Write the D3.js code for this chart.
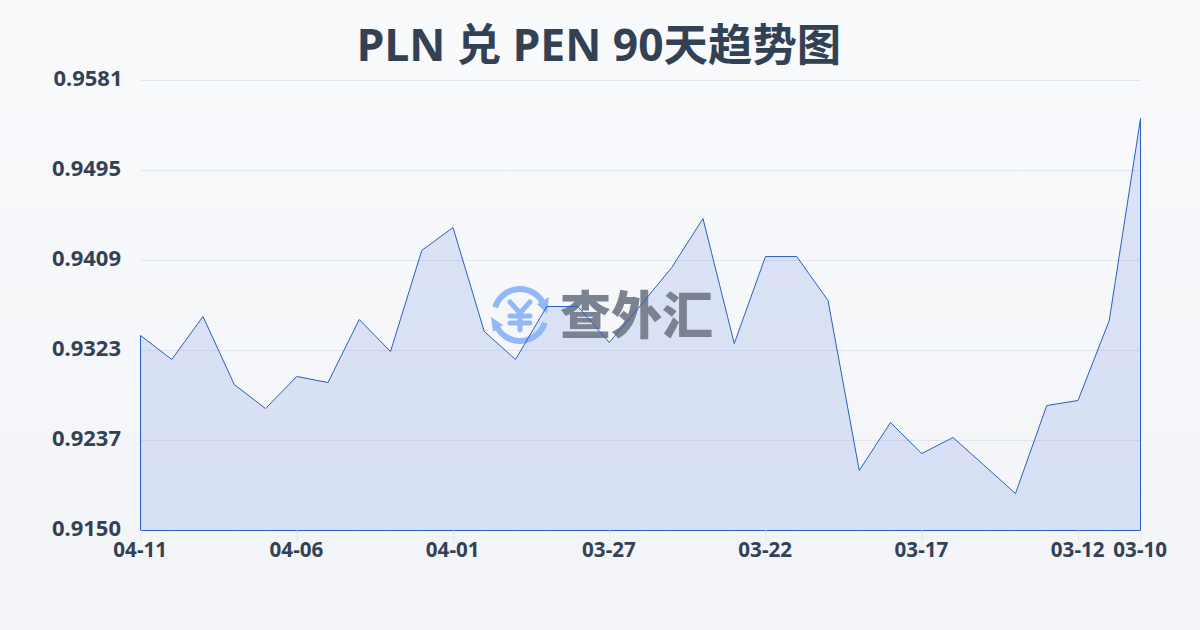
<!DOCTYPE html>
<html>
<head>
<meta charset="utf-8">
<script src="https://cdnjs.cloudflare.com/ajax/libs/d3/7.8.5/d3.min.js"></script>
<style>
  html, body { margin: 0; padding: 0; }
  body { width: 1200px; height: 630px; overflow: hidden; font-family: "Noto Sans", "Noto Sans CJK SC", sans-serif; }
</style>
</head>
<body>
<div id="chart"></div>
<script>
const dates = ["04-11","04-10","04-09","04-08","04-07","04-06","04-05","04-04","04-03","04-02","04-01",
    "03-31","03-30","03-29","03-28","03-27","03-26","03-25","03-24","03-23","03-22",
    "03-21","03-20","03-19","03-18","03-17","03-16","03-15","03-14","03-13","03-12","03-11","03-10"];
const rates = [0.93368,0.93138,0.93550,0.92898,0.92668,0.92975,0.92917,0.93521,0.93214,0.94182,0.94402,
    0.93406,0.93138,0.93645,0.93645,0.93301,0.93655,0.94019,0.94488,0.93291,0.94124,
    0.94124,0.93703,0.92075,0.92534,0.92237,0.92391,0.92123,0.91854,0.92697,0.92745,0.93511,0.95446];
const xLabels = ["04-11","04-06","04-01","03-27","03-22","03-17","03-12","03-10"];
const yTicks = [0.9150,0.92362,0.93224,0.94086,0.94948,0.9581];
const yLabels = ["0.9150","0.9237","0.9323","0.9409","0.9495","0.9581"];

const width = 1200, height = 630;
const margin = { top: 80.5, right: 59.5, bottom: 99.5, left: 140.5 };

const svg = d3.select("#chart").append("svg")
    .attr("width", width)
    .attr("height", height)
    .style("display", "block");

const defs = svg.append("defs");
const bg = defs.append("linearGradient").attr("id", "bg")
    .attr("x1", 0).attr("y1", 0).attr("x2", 0).attr("y2", 1);
bg.append("stop").attr("offset", "0%").attr("stop-color", "#f9fafc");
bg.append("stop").attr("offset", "100%").attr("stop-color", "#f2f4f7");

svg.append("rect").attr("width", width).attr("height", height).attr("fill", "url(#bg)");

// scales
const x = d3.scalePoint()
    .domain(dates)
    .range([margin.left, width - margin.right]);

const y = d3.scaleLinear()
    .domain([0.915, 0.9581])
    .range([height - margin.bottom, margin.top]);

// grid lines
svg.append("g").selectAll("line")
    .data(yTicks)
    .enter()
    .append("line")
    .attr("x1", margin.left)
    .attr("x2", width - margin.right)
    .attr("y1", d => y(d))
    .attr("y2", d => y(d))
    .attr("stroke", "#e2e6ec")
    .attr("stroke-width", 1);

// area with its outline
const area = d3.area()
    .x((d, i) => x(dates[i]))
    .y0(y(0.915))
    .y1(d => y(d));

svg.append("path")
    .datum(rates)
    .attr("d", area)
    .attr("fill", "#1d4ed8")
    .attr("fill-opacity", 0.13);

// watermark
const mark = svg.append("g").attr("transform", "translate(520,315)");
const arc = d3.arc().innerRadius(23).outerRadius(29);
mark.selectAll("path.ring")
    .data([[-1.27, 1.2], [1.87, 4.3]])
    .enter()
    .append("path")
    .attr("class", "ring")
    .attr("d", d => arc({ startAngle: d[0], endAngle: d[1] }))
    .attr("fill", "#93b8f7");
mark.append("path").attr("d", "M17,-11 L29,-18 L27,-1 Z").attr("fill", "#93b8f7");
mark.append("path").attr("d", "M-29,2 L-17,10 L-27,17 Z").attr("fill", "#93b8f7");
mark.append("path")
    .attr("d", "M-10,-13 L0,-2 L10,-13 M-10,1 H10 M-10,8 H10 M0,-2 V15")
    .attr("fill", "none")
    .attr("stroke", "#93b8f7")
    .attr("stroke-width", 5)
    .attr("stroke-linecap", "round");
svg.append("text")
    .attr("x", 560)
    .attr("y", 334)
    .attr("font-size", 51)
    .attr("font-weight", 900)
    .attr("font-family", "'Noto Sans CJK SC'")
    .attr("fill", "#7b8292")
    .text("查外汇");

svg.append("path")
    .datum(rates)
    .attr("d", d => area(d) + "Z")
    .attr("fill", "none")
    .attr("stroke", "#2a5fc4")
    .attr("stroke-width", 1)
    .attr("stroke-linejoin", "round");

// y labels
svg.append("g").selectAll("text")
    .data(yTicks)
    .enter()
    .append("text")
    .attr("x", (d, i) => i === 5 ? 122.5 : 121)
    .attr("y", d => y(d) + 5.5)
    .attr("text-anchor", "end")
    .attr("font-size", 22)
    .attr("font-weight", 700)
    .attr("fill", "#334155")
    .text((d, i) => yLabels[i]);

// x axis
const xAxis = svg.append("g")
    .attr("transform", `translate(0,${height - margin.bottom})`)
    .call(d3.axisBottom(x).tickValues(xLabels).tickSize(10).tickPadding(2));
xAxis.select(".domain").remove();
xAxis.selectAll("line").attr("stroke", "#e2e6ec");
xAxis.selectAll("text")
    .attr("dx", -0.8)
    .attr("font-size", 20.6)
    .attr("font-weight", 700)
    .attr("font-family", "'Noto Sans', sans-serif")
    .attr("fill", "#334155");

// title
svg.append("text")
    .attr("x", 599)
    .attr("y", 61)
    .attr("text-anchor", "middle")
    .attr("font-size", 44.4)
    .attr("font-weight", 700)
    .attr("fill", "#334155")
    .text("PLN 兑 PEN 90天趋势图");
</script>
</body>
</html>
